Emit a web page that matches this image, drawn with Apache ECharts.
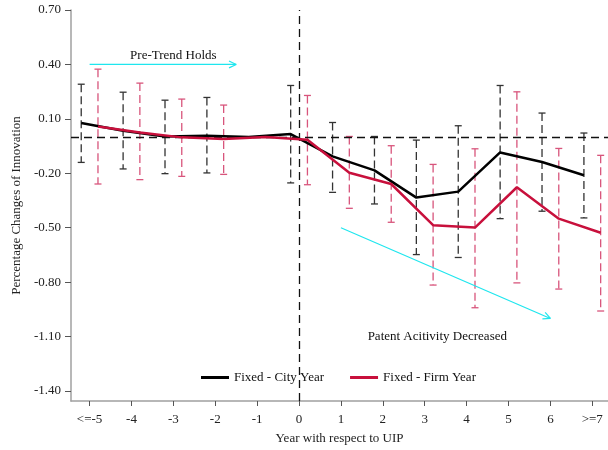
<!DOCTYPE html>
<html>
<head>
<meta charset="utf-8">
<script src="https://cdn.jsdelivr.net/npm/echarts@6/dist/echarts.min.js"></script>
<style>
html,body{margin:0;padding:0;background:#fff;}
#chart{width:608px;height:450px;}
</style>
</head>
<body>
<div id="chart"></div>
<script>
// ---- data ----
var years = [-5, -4, -3, -2, -1, 0, 1, 2, 3, 4, 5, 6, 7];
var tickLabels = ['<=-5', '-4', '-3', '-2', '-1', '0', '1', '2', '3', '4', '5', '6', '>=7'];
var yTicks = [0.7, 0.4, 0.1, -0.2, -0.5, -0.8, -1.1, -1.4];

var cityCoef = [0.077, 0.034, 0.003, 0.007, 0, 0.016, -0.107, -0.184, -0.334, -0.301, -0.085, -0.138, -0.211];
var cityLow  = [-0.140, -0.176, -0.202, -0.198, null, -0.253, -0.305, -0.369, -0.648, -0.664, -0.450, -0.409, -0.446];
var cityHigh = [0.291, 0.247, 0.203, 0.218, null, 0.284, 0.080, 0.003, -0.017, 0.062, 0.284, 0.132, 0.022];

var firmCoef = [0.058, 0.025, -0.002, -0.011, 0, -0.015, -0.197, -0.259, -0.486, -0.499, -0.277, -0.450, -0.528];
var firmLow  = [-0.259, -0.235, -0.217, -0.206, null, -0.263, -0.393, -0.470, -0.816, -0.941, -0.804, -0.838, -0.959];
var firmHigh = [0.374, 0.297, 0.209, 0.176, null, 0.229, 0.003, -0.048, -0.151, -0.065, 0.249, -0.063, -0.101];

var seriesNames = ['Fixed - City Year', 'Fixed - Firm Year'];
var offsets = [-0.2, 0.2];

// annotations (data coordinates)
var arrowPre = [[-5, 0.4], [-1.5, 0.4]];
var arrowPost = [[1, -0.5], [6, -1.0]];
var textPre = { x: -3.0, y: 0.449, text: 'Pre-Trend Holds' };
var textPost = { x: 3.3, y: -1.10, text: 'Patent Acitivity Decreased' };

// ---- build ----
var FONT = "'Liberation Serif', 'Times New Roman', serif";
var COL_CITY = '#000000', COL_FIRM = '#C8103C';
var COL_CITY_CI = '#333333', COL_FIRM_CI = '#D8557C';
var CYAN = '#1FE6EE';

function lineData(coef, off) {
  return years.map(function (y, i) { return [y + off, coef[i]]; });
}
function ciData(low, high, off) {
  var out = [];
  years.forEach(function (y, i) {
    if (low[i] !== null && high[i] !== null) out.push([y + off, low[i], high[i]]);
  });
  return out;
}
function ciRender(color) {
  return function (params, api) {
    var x = api.value(0), lo = api.value(1), hi = api.value(2);
    var t = api.coord([x, hi]), b = api.coord([x, lo]);
    var cw = 3.5;
    return {
      type: 'group',
      children: [
        { type: 'line', shape: { x1: t[0], y1: t[1], x2: b[0], y2: b[1] },
          style: { stroke: color, lineWidth: 1.3, lineDash: [8, 4] } },
        { type: 'line', shape: { x1: t[0] - cw, y1: t[1], x2: t[0] + cw, y2: t[1] },
          style: { stroke: color, lineWidth: 1.3 } },
        { type: 'line', shape: { x1: b[0] - cw, y1: b[1], x2: b[0] + cw, y2: b[1] },
          style: { stroke: color, lineWidth: 1.3 } }
      ]
    };
  };
}
function arrowRender(params, api) {
  var p1 = api.coord([api.value(0), api.value(1)]);
  var p2 = api.coord([api.value(2), api.value(3)]);
  var ang = Math.atan2(p2[1] - p1[1], p2[0] - p1[0]);
  var L = 8, a = 0.45;
  var h1 = [p2[0] - L * Math.cos(ang - a), p2[1] - L * Math.sin(ang - a)];
  var h2 = [p2[0] - L * Math.cos(ang + a), p2[1] - L * Math.sin(ang + a)];
  var st = { stroke: CYAN, lineWidth: 1.2 };
  return {
    type: 'group',
    children: [
      { type: 'line', shape: { x1: p1[0], y1: p1[1], x2: p2[0], y2: p2[1] }, style: st },
      { type: 'line', shape: { x1: p2[0], y1: p2[1], x2: h1[0], y2: h1[1] }, style: st },
      { type: 'line', shape: { x1: p2[0], y1: p2[1], x2: h2[0], y2: h2[1] }, style: st }
    ]
  };
}
function textRender(params, api) {
  var p = api.coord([api.value(0), api.value(1)]);
  var items = [textPre, textPost];
  return {
    type: 'text',
    x: p[0], y: p[1],
    style: { text: items[params.dataIndex].text, fill: '#111', font: '13px ' + FONT,
             textAlign: 'center', textVerticalAlign: 'middle' }
  };
}

var chart = echarts.init(document.getElementById('chart'), null, { renderer: 'canvas' });
var option = {
  backgroundColor: '#ffffff',
  animation: false,
  textStyle: { fontFamily: FONT },
  grid: { left: 71, right: 0, top: 10, bottom: 48, containLabel: false },
  xAxis: {
    type: 'value', min: -5.444, max: 7.375,
    name: 'Year with respect to UIP', nameLocation: 'middle', nameGap: 31,
    nameTextStyle: { fontFamily: FONT, fontSize: 13, color: '#222' },
    axisLine: { show: true, onZero: false, lineStyle: { color: '#a0a0a0', width: 1.5 } },
    axisTick: { show: true, length: 5, customValues: years, lineStyle: { color: '#555', width: 1 } },
    axisLabel: {
      customValues: years, margin: 12, fontFamily: FONT, fontSize: 13, color: '#222',
      formatter: function (v) { var i = years.indexOf(Math.round(v)); return i >= 0 ? tickLabels[i] : ''; }
    },
    splitLine: { show: false }
  },
  yAxis: {
    type: 'value', min: -1.455, max: 0.7,
    name: 'Percentage Changes of Innovation', nameLocation: 'middle', nameGap: 48,
    nameTextStyle: { fontFamily: FONT, fontSize: 13, color: '#222' },
    axisLine: { show: true, onZero: false, lineStyle: { color: '#a0a0a0', width: 1.5 } },
    axisTick: { show: true, length: 6, customValues: yTicks, lineStyle: { color: '#555', width: 1 } },
    axisLabel: {
      customValues: yTicks, margin: 10, fontFamily: FONT, fontSize: 13, color: '#222',
      formatter: function (v) { return v.toFixed(2); }
    },
    splitLine: { show: false }
  },
  legend: {
    data: seriesNames, left: 196, top: 366, icon: 'rect', itemWidth: 28, itemHeight: 3, itemGap: 26,
    textStyle: { fontFamily: FONT, fontSize: 13, color: '#111' }
  },
  series: [
    {
      type: 'custom', name: 'ciCity', renderItem: ciRender(COL_CITY_CI),
      data: ciData(cityLow, cityHigh, offsets[0]), z: 2, silent: true,
      markLine: {
        silent: true, symbol: 'none', label: { show: false },
        lineStyle: { color: '#111', type: [8, 5], width: 1.3 },
        data: [{ yAxis: 0 }, { xAxis: 0 }]
      }
    },
    {
      type: 'custom', name: 'ciFirm', renderItem: ciRender(COL_FIRM_CI),
      data: ciData(firmLow, firmHigh, offsets[1]), z: 2, silent: true
    },
    {
      type: 'line', name: seriesNames[0], data: lineData(cityCoef, offsets[0]),
      symbol: 'none', lineStyle: { color: COL_CITY, width: 2.5 }, itemStyle: { color: COL_CITY }, z: 4
    },
    {
      type: 'line', name: seriesNames[1], data: lineData(firmCoef, offsets[1]),
      symbol: 'none', lineStyle: { color: COL_FIRM, width: 2.5 }, itemStyle: { color: COL_FIRM }, z: 5
    },
    {
      type: 'custom', name: 'arrows', renderItem: arrowRender, silent: true, z: 3,
      data: [arrowPre[0].concat(arrowPre[1]), arrowPost[0].concat(arrowPost[1])]
    },
    {
      type: 'custom', name: 'notes', renderItem: textRender, silent: true, z: 6,
      data: [[textPre.x, textPre.y], [textPost.x, textPost.y]]
    }
  ]
};
chart.setOption(option);
</script>
</body>
</html>
